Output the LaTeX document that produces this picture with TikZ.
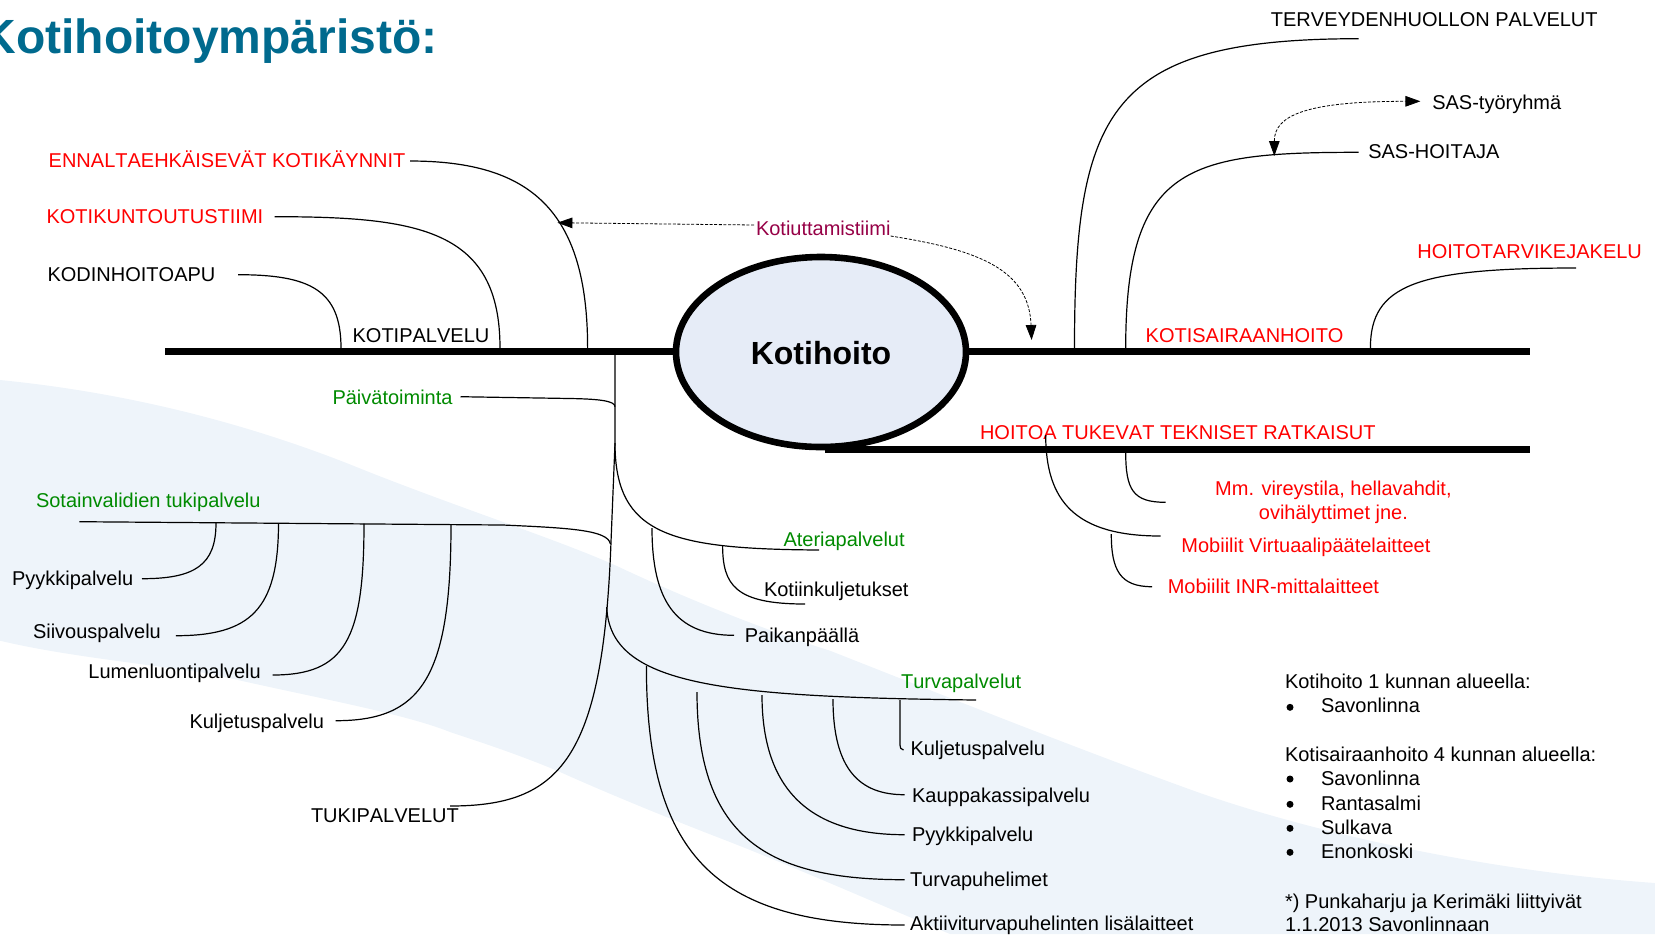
\documentclass[tikz,border=0pt]{standalone}
\usepackage{fontspec}
\setmainfont[Kerning=Off]{Liberation Sans}
\usetikzlibrary{arrows.meta,shapes.geometric}
\definecolor{wave}{HTML}{EEF4FA}
\definecolor{titleblue}{HTML}{006A8E}
\definecolor{grn}{HTML}{008A00}
\definecolor{plum}{HTML}{960046}
\definecolor{ellfill}{HTML}{E6ECF7}
\tikzset{
  lbl/.style={inner sep=0pt,outer sep=0pt,font=\fontsize{10}{12}\selectfont,anchor=base west,yshift=-0.35pt},
  redlbl/.style={lbl,text=red},
  grnlbl/.style={lbl,text=grn},
  link/.style={draw=black,line width=0.6pt},
  thick bar/.style={draw=black,line width=3.3pt},
  dashlink/.style={draw=black,line width=0.4pt,dash pattern=on 1.5pt off 0.8pt},
  tip/.style={-{Triangle[length=7.5pt,width=5.3pt]}},
  tips/.style={{Triangle[length=7.5pt,width=5.3pt]}-{Triangle[length=7.5pt,width=5.3pt]}},
}
\begin{document}
\begin{tikzpicture}[x=0.5pt,y=-0.5pt]
\useasboundingbox (0,0) rectangle (1655,934);
% background wave
\fill[wave] (0,380) .. controls (132,393) and (250,425) .. (349,464)
  .. controls (450,505) and (560,540) .. (619,567)
  .. controls (700,605) and (780,635) .. (830,650.7)
  .. controls (930,690) and (1080,750) .. (1200,793)
  .. controls (1330,838) and (1500,872) .. (1655,883)
  -- (1655,934) -- (950,934)
  .. controls (880,905) and (790,865) .. (717,837)
  .. controls (660,815) and (600,790) .. (560,772)
  .. controls (520,755) and (480,742) .. (450,732)
  .. controls (400,712) and (300,695) .. (212,674)
  .. controls (130,662) and (60,655) .. (0,640.7) -- cycle;
% title
\node[inner sep=0pt,anchor=base east,text=titleblue,font=\fontsize{24}{28}\bfseries\selectfont] (title) at (438,53.5) {Kotihoitoympäristö:};
% bars and hub
\coordinate (lbarL) at (165,351.5);
\coordinate (rbarR) at (1529.7,351.5);
\coordinate (tbarL) at (825,449.5);
\coordinate (tbarR) at (1529.7,449.5);
\draw[thick bar] (lbarL) -- (rbarR);
\draw[thick bar] (tbarL) -- (tbarR);
\node[draw=black,line width=3.3pt,fill=ellfill,ellipse,minimum width=145pt,minimum height=95pt,inner sep=0pt] (hub) at (821,352) {};
\node[inner sep=0pt,anchor=base,yshift=-0.9pt,font=\fontsize{16}{19}\bfseries\selectfont] (hubtxt) at (821,363) {Kotihoito};
% top-left
\node[redlbl] (enn) at (48.7,166.7) {ENNALTAEHKÄISEVÄT KOTIKÄYNNIT};
\node[redlbl] (kun) at (46.6,222.7) {KOTIKUNTOUTUSTIIMI};
\node[lbl] (kod) at (47.6,281) {KODINHOITOAPU};
\node[lbl] (kotip) at (352.6,341.7) {KOTIPALVELU};
\coordinate (a1) at (410,161); \coordinate (a2) at (587.6,348);
\coordinate (b1) at (274.7,216.7); \coordinate (b2) at (500,348);
\coordinate (c1) at (238,274.7); \coordinate (c2) at (341,348);
\draw[link] (a1) .. controls (530,161) and (587.6,210) .. (a2);
\draw[link] (b1) .. controls (420,216.7) and (500,230) .. (b2);
\draw[link] (c1) .. controls (310,274.7) and (341,290) .. (c2);
% trunk
\coordinate (tr0) at (615,355);
\coordinate (tr1) at (611,542);
\coordinate (tuk) at (450,806);
\draw[link] (tr0) -- (615,443) -- (tr1) .. controls (603,760) and (560,806) .. (tuk);
\node[lbl] (tukt) at (311,821.3) {TUKIPALVELUT};
% Paivatoiminta
\node[grnlbl] (pai) at (332.5,404) {Päivätoiminta};
\coordinate (p1) at (460.5,396.7); \coordinate (p2) at (615,406.7);
\draw[link] (p1) -- (570,398.5) .. controls (600,399) and (615,401) .. (p2);
% Sotainvalidien
\node[grnlbl] (sot) at (36,506.7) {Sotainvalidien tukipalvelu};
\coordinate (s1) at (79.4,521.7); \coordinate (s2) at (610.4,544);
\draw[link] (s1) -- (503,525) .. controls (570,528) and (608,530) .. (s2);
\node[lbl] (s1t) at (12,584.7) {Pyykkipalvelu};
\node[lbl] (s2t) at (33,638) {Siivouspalvelu};
\node[lbl] (s3t) at (88.4,678) {Lumenluontipalvelu};
\node[lbl] (s4t) at (189.5,727.3) {Kuljetuspalvelu};
\coordinate (q1a) at (142,578.7); \coordinate (q1b) at (216,523);
\coordinate (q2a) at (175.8,635.7); \coordinate (q2b) at (278.5,523);
\coordinate (q3a) at (272.6,675); \coordinate (q3b) at (364,523.5);
\coordinate (q4a) at (335.6,720.7); \coordinate (q4b) at (451,524.7);
\draw[link] (q1a) .. controls (195,578.7) and (216,565) .. (q1b);
\draw[link] (q2a) .. controls (250,635.7) and (278.5,610) .. (q2b);
\draw[link] (q3a) .. controls (345,675) and (364,640) .. (q3b);
\draw[link] (q4a) .. controls (420,720.7) and (451,680) .. (q4b);
% Ateria
\coordinate (at0) at (615,443); \coordinate (at1) at (819,550); \coordinate (atk) at (652,528); \coordinate (atj) at (722.6,545);
\draw[link] (at0) .. controls (615,535) and (670,549) .. (at1);
\node[grnlbl] (att) at (783.5,545.7) {Ateriapalvelut};
\node[lbl] (kkt) at (764,595.7) {Kotiinkuljetukset};
\node[lbl] (pat) at (744.8,641.3) {Paikanpäällä};
\draw[link] (atj) .. controls (722.6,585) and (735,604) .. (805,604);
\draw[link] (atk) .. controls (652,600) and (675,635.3) .. (734,635.3);
% Turva
\coordinate (tu0) at (606.7,607); \coordinate (tu1) at (976.1,700);
\draw[link] (tu0) .. controls (610,685) and (720,697) .. (tu1);
\node[grnlbl] (tut) at (901.1,688) {Turvapalvelut};
\node[lbl] (t1t) at (910.5,755) {Kuljetuspalvelu};
\node[lbl] (t2t) at (912.1,801.7) {Kauppakassipalvelu};
\node[lbl] (t3t) at (912.1,840.7) {Pyykkipalvelu};
\node[lbl] (t4t) at (910,885.7) {Turvapuhelimet};
\node[lbl] (t5t) at (910,929.7) {Aktiiviturvapuhelinten lisälaitteet};
\draw[link] (900,700) -- (900,745) .. controls (900,748) and (900.6,749) .. (903.5,750);
\draw[link] (833,699) .. controls (833,770) and (860,794.7) .. (904.5,794.7);
\draw[link] (762,695) .. controls (762,790) and (810,834.7) .. (904.5,834.7);
\draw[link] (697,692) .. controls (697,840) and (770,879.7) .. (904.5,879.7);
\draw[link] (646.4,666) .. controls (646.4,860) and (720,925) .. (904.5,925);
% top-right
\node[lbl] (ter) at (1270.9,26) {TERVEYDENHUOLLON PALVELUT};
\coordinate (d1) at (1358.7,38.7); \coordinate (d2) at (1074.5,348);
\draw[link] (d1) .. controls (1108,38.7) and (1074.5,110) .. (d2);
\node[lbl] (sash) at (1368.3,157.7) {SAS-HOITAJA};
\node[lbl] (sast) at (1432.3,108.3) {SAS-työryhmä};
\coordinate (e1) at (1358.7,152.3); \coordinate (e2) at (1125.7,348); \coordinate (em) at (1274.3,156); \coordinate (ea) at (1420.4,101.3);
\draw[link] (e1) .. controls (1188,152.3) and (1125.7,165) .. (e2);
\draw[dashlink,tips] (em) .. controls (1274.3,115) and (1307,101.3) .. (ea);
\node[redlbl] (ksh) at (1145.7,341.7) {KOTISAIRAANHOITO};
\node[redlbl] (htj) at (1417.4,257.7) {HOITOTARVIKEJAKELU};
\draw[link] (1576.1,268) .. controls (1416,268) and (1370.4,285) .. (1370.4,348);
\node[redlbl] (htk) at (980,439) {HOITOA TUKEVAT TEKNISET RATKAISUT};
\draw[link] (1045.7,435) .. controls (1045.7,500) and (1074,536) .. (1160.5,536);
\draw[link] (1125.7,452) .. controls (1125.7,490) and (1133,502.3) .. (1165.6,502.3);
\draw[link] (1111.3,534) .. controls (1111.3,570) and (1120,586.7) .. (1152,586.7);
\node[redlbl,anchor=base] (mm1) at (1333.4,494.7) {Mm. vireystila, hellavahdit,};
\node[redlbl,anchor=base] (mm2) at (1333.4,519) {ovihälyttimet jne.};
\node[redlbl] (mv) at (1181.4,551.7) {Mobiilit Virtuaalipäätelaitteet};
\node[redlbl] (mi) at (1167.8,593) {Mobiilit INR-mittalaitteet};
% Kotiuttamistiimi
\node[lbl,text=plum] (kot) at (756,235) {Kotiuttamistiimi};
\coordinate (k1) at (754,225); \coordinate (k2) at (557.4,222.7);
\coordinate (k3) at (890.6,236); \coordinate (k4) at (1031.6,340);
\draw[dashlink,tip] (k1) -- (k2);
\draw[dashlink,tip] (k3) .. controls (980,250) and (1029,270) .. (k4);
% notes
\node[lbl] (n1) at (1285,687.3) {Kotihoito 1 kunnan alueella:};
\node[lbl] (n2) at (1321,712) {Savonlinna};
\node[lbl] (n3) at (1285,760.7) {Kotisairaanhoito 4 kunnan alueella:};
\node[lbl] (n4) at (1321,785) {Savonlinna};
\node[lbl] (n5) at (1321,809.7) {Rantasalmi};
\node[lbl] (n6) at (1321,833.3) {Sulkava};
\node[lbl] (n7) at (1321,857.3) {Enonkoski};
\node[lbl] (n8) at (1285,907.3) {*) Punkaharju ja Kerimäki liittyivät};
\node[lbl] (n9) at (1285,930.7) {1.1.2013 Savonlinnaan};
\foreach \y in {707.3,779,804.3,828.3,852.3}{\fill (1290,\y) circle (3.5);}
\end{tikzpicture}
\end{document}
